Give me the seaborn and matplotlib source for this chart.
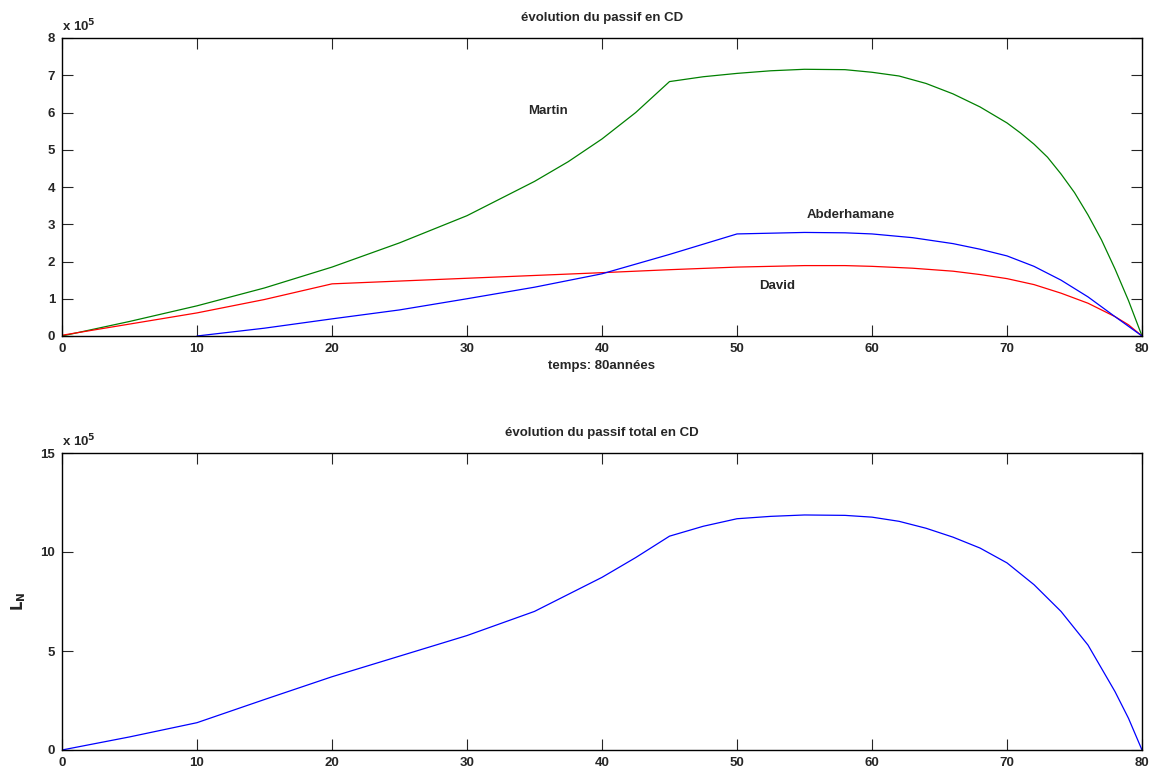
import matplotlib
matplotlib.use("Agg")
import matplotlib.pyplot as plt
import seaborn as sns

# ---- data (values in units of 1e5) ----
martin_t = [0, 5, 10, 15, 20, 25, 30, 35, 37.5, 40, 42.5, 45, 47.5, 50, 52.5, 55, 58, 60, 62, 64, 66, 68, 70,
            71, 72, 73, 74, 75, 76, 77, 78, 79, 80]
martin_v = [0, 0.39, 0.81, 1.29, 1.85, 2.50, 3.23, 4.15, 4.68, 5.29, 6.00, 6.83, 6.96, 7.05, 7.12, 7.16, 7.15, 7.08,
            6.98, 6.78, 6.50, 6.15, 5.72, 5.45, 5.15, 4.80, 4.35, 3.85, 3.25, 2.58, 1.80, 0.95, 0]

david_t = [0, 5, 10, 15, 20, 30, 40, 45, 50, 55, 58, 60, 63, 66, 68, 70, 72, 74, 76, 78, 79, 80]
david_v = [0.02, 0.32, 0.62, 0.98, 1.40, 1.55, 1.70, 1.78, 1.85, 1.89, 1.89, 1.87, 1.82, 1.74, 1.65, 1.54, 1.38,
           1.15, 0.88, 0.52, 0.30, 0]

abder_t = [10, 15, 20, 25, 30, 35, 40, 45, 50, 55, 58, 60, 63, 66, 68, 70, 72, 74, 76, 78, 79, 80]
abder_v = [0, 0.21, 0.46, 0.70, 1.00, 1.31, 1.67, 2.19, 2.74, 2.78, 2.77, 2.74, 2.64, 2.48, 2.33, 2.15, 1.87,
           1.50, 1.05, 0.52, 0.26, 0]

total_t = [0, 5, 10, 15, 20, 25, 30, 35, 40, 42.5, 45, 47.5, 50, 52.5, 55, 58, 60, 62, 64, 66, 68, 70,
           72, 74, 76, 78, 79, 80]
total_v = [0, 0.66, 1.38, 2.55, 3.70, 4.74, 5.78, 7.00, 8.72, 9.72, 10.80, 11.30, 11.68, 11.80, 11.87, 11.85,
           11.76, 11.55, 11.20, 10.75, 10.20, 9.45, 8.35, 7.00, 5.30, 2.95, 1.60, 0]

xticks = [0, 10, 20, 30, 40, 50, 60, 70, 80]
yticks_top = [0, 1, 2, 3, 4, 5, 6, 7, 8]
yticks_bot = [0, 5, 10, 15]

title_top = "évolution du passif en CD"
title_bot = "évolution du passif total en CD"
xlabel_top = "temps: 80années"

sns.set_style("ticks")
plt.rcParams['font.family'] = ['Liberation Sans', 'DejaVu Sans']
plt.rcParams['font.weight'] = 'bold'
FS = 9.5

fig = plt.figure(figsize=(11.53, 7.69), dpi=100)
ax1 = fig.add_axes([62/1153, 1-336/769, 1080/1153, 298/769])
ax2 = fig.add_axes([62/1153, 1-750/769, 1080/1153, 297/769])

lw = 0.9
sns.lineplot(x=martin_t, y=martin_v, color=(0, 0.5, 0), linewidth=lw, ax=ax1)
sns.lineplot(x=david_t, y=david_v, color=(1, 0, 0), linewidth=lw, ax=ax1)
sns.lineplot(x=abder_t, y=abder_v, color=(0, 0, 1), linewidth=lw, ax=ax1)
sns.lineplot(x=total_t, y=total_v, color=(0, 0, 1), linewidth=lw, ax=ax2)

for ax, yt in ((ax1, yticks_top), (ax2, yticks_bot)):
    ax.set_xlim(0, 80)
    ax.set_ylim(yt[0], yt[-1])
    ax.set_xticks(xticks)
    ax.set_yticks(yt)
    ax.tick_params(direction='in', top=True, right=True, length=8, width=0.8,
                   labelsize=FS, pad=5)
    for lab in ax.get_xticklabels() + ax.get_yticklabels():
        lab.set_fontweight('bold')
    for s in ax.spines.values():
        s.set_visible(True)
        s.set_color('black')
        s.set_linewidth(1.0)
    ax.text(0, 1.012, r"x 10$^{\mathbf{5}}$", transform=ax.transAxes,
            fontsize=FS, fontweight='bold', va='bottom', ha='left')

ax1.set_title(title_top, fontsize=FS, fontweight='bold', pad=12)
ax2.set_title(title_bot, fontsize=FS, fontweight='bold', pad=12)
ax1.set_xlabel(xlabel_top, fontsize=FS, fontweight='bold', labelpad=4)
ax2.set_ylabel(r"$\mathbf{L_N}$", fontsize=FS + 1, labelpad=9)

ax1.text(36, 6.05, "Martin", fontsize=FS, fontweight='bold', ha='center', va='center')
ax1.text(58.4, 3.24, "Abderhamane", fontsize=FS, fontweight='bold', ha='center', va='center')
ax1.text(53, 1.35, "David", fontsize=FS, fontweight='bold', ha='center', va='center')

fig.savefig("out.png", dpi=100, facecolor='white')
